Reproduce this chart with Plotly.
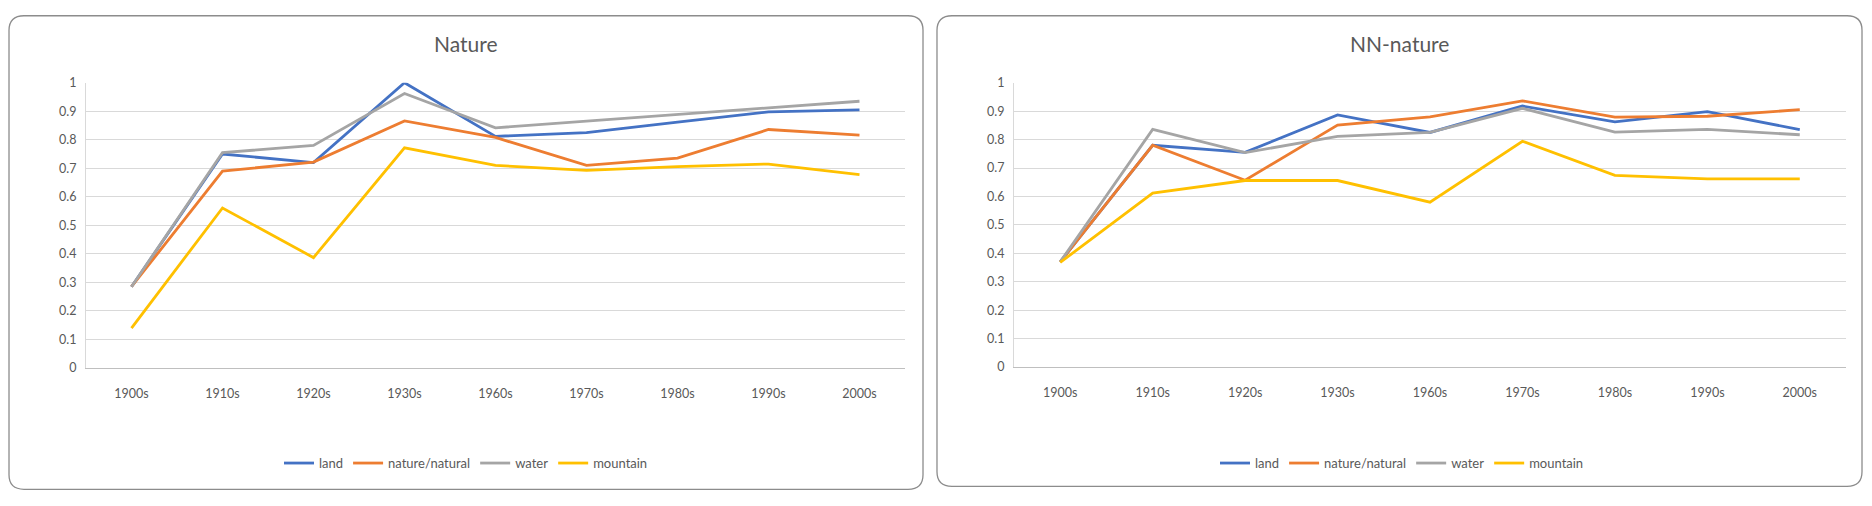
import plotly.graph_objects as go

# figure size in px, everything below is laid out against it
W, H = 1872, 506

decades = ["1900s", "1910s", "1920s", "1930s", "1960s", "1970s", "1980s", "1990s", "2000s"]
series_names = ["land", "nature/natural", "water", "mountain"]
colors = ["#4472C4", "#ED7D31", "#A5A5A5", "#FFC000"]

# left chart: Nature
nature_land = [0.285, 0.75, 0.72, 1.0, 0.812, 0.825, 0.862, 0.898, 0.905]
nature_natural = [0.285, 0.69, 0.722, 0.866, 0.808, 0.71, 0.736, 0.836, 0.816]
nature_water = [0.285, 0.755, 0.78, 0.962, 0.842, 0.866, 0.888, 0.912, 0.935]
nature_mountain = [0.14, 0.561, 0.387, 0.772, 0.71, 0.693, 0.706, 0.715, 0.678]

# right chart: NN-nature
nn_land = [0.37, 0.78, 0.755, 0.887, 0.825, 0.918, 0.862, 0.898, 0.835]
nn_natural = [0.37, 0.78, 0.657, 0.851, 0.88, 0.936, 0.879, 0.882, 0.905]
nn_water = [0.37, 0.836, 0.754, 0.811, 0.825, 0.91, 0.826, 0.836, 0.817]
nn_mountain = [0.368, 0.612, 0.656, 0.656, 0.58, 0.794, 0.674, 0.662, 0.662]

FONT = "Lato, Open Sans, sans-serif"
TXT = "#595959"


def px(x):
    return x / W


def py(y):
    return 1 - y / H


def rounded_box(x0, y0, x1, y1, r):
    pts = [("M", [(x0 + r, y0)]), ("L", [(x1 - r, y0)]), ("Q", [(x1, y0), (x1, y0 + r)]),
           ("L", [(x1, y1 - r)]), ("Q", [(x1, y1), (x1 - r, y1)]),
           ("L", [(x0 + r, y1)]), ("Q", [(x0, y1), (x0, y1 - r)]),
           ("L", [(x0, y0 + r)]), ("Q", [(x0, y0), (x0 + r, y0)])]
    s = ""
    for cmd, ps in pts:
        s += cmd + " " + " ".join(f"{px(a):.5f},{py(b):.5f}" for a, b in ps) + " "
    return s + "Z"


fig = go.Figure()

left = [nature_land, nature_natural, nature_water, nature_mountain]
right = [nn_land, nn_natural, nn_water, nn_mountain]

for name, col, vals in zip(series_names, colors, left):
    fig.add_trace(go.Scatter(x=decades, y=vals, name=name, mode="lines",
                             line=dict(color=col, width=2.8),
                             xaxis="x", yaxis="y", legend="legend"))
for name, col, vals in zip(series_names, colors, right):
    fig.add_trace(go.Scatter(x=decades, y=vals, name=name, mode="lines",
                             line=dict(color=col, width=2.8),
                             xaxis="x2", yaxis="y2", legend="legend2"))

xax = dict(type="category", range=[-0.5, 8.5], showgrid=False, showline=True,
           linecolor="#BFBFBF", linewidth=1, ticks="", ticklabelstandoff=14,
           tickfont=dict(family=FONT, size=12.5, color=TXT), fixedrange=True)
yax = dict(range=[0, 1], dtick=0.1, showgrid=True, gridcolor="#D9D9D9", gridwidth=1,
           showline=True, linecolor="#D9D9D9", zeroline=False, ticks="",
           ticklabelstandoff=6, tickfont=dict(family=FONT, size=12.5, color=TXT))

leg = dict(orientation="h", xanchor="center", yanchor="middle", y=py(469),
           font=dict(family=FONT, size=13, color=TXT), bgcolor="rgba(0,0,0,0)",
           itemwidth=30, tracegroupgap=0)

fig.update_layout(
    width=W, height=H,
    margin=dict(l=0, r=0, t=0, b=0),
    paper_bgcolor="white", plot_bgcolor="white",
    xaxis=dict(xax, domain=[px(86), px(905)], anchor="y"),
    yaxis=dict(yax, domain=[py(371), py(77)], anchor="x"),
    xaxis2=dict(xax, domain=[px(1014), px(1846)], anchor="y2"),
    yaxis2=dict(yax, domain=[py(370), py(77)], anchor="x2"),
    legend=dict(leg, x=px(466)),
    legend2=dict(leg, x=px(1402)),
    shapes=[
        dict(type="path", xref="paper", yref="paper", path=rounded_box(9, 8, 923, 496, 15),
             line=dict(color="#8C8C8C", width=1.3), layer="below"),
        dict(type="path", xref="paper", yref="paper", path=rounded_box(937, 8, 1862, 493, 15),
             line=dict(color="#8C8C8C", width=1.3), layer="below"),
    ],
    annotations=[
        dict(text="Nature", x=px(466), y=py(37), xref="paper", yref="paper",
             xanchor="center", yanchor="middle",
             showarrow=False, font=dict(family=FONT, size=21, color=TXT)),
        dict(text="NN-nature", x=px(1399), y=py(37), xref="paper", yref="paper",
             xanchor="center", yanchor="middle",
             showarrow=False, font=dict(family=FONT, size=21, color=TXT)),
    ],
    showlegend=True,
)

# no body margin, so the 1872x506 figure fills the window exactly
fig.write_html("out.html", config={"displayModeBar": False},
               post_script="document.body.style.margin='0';")
